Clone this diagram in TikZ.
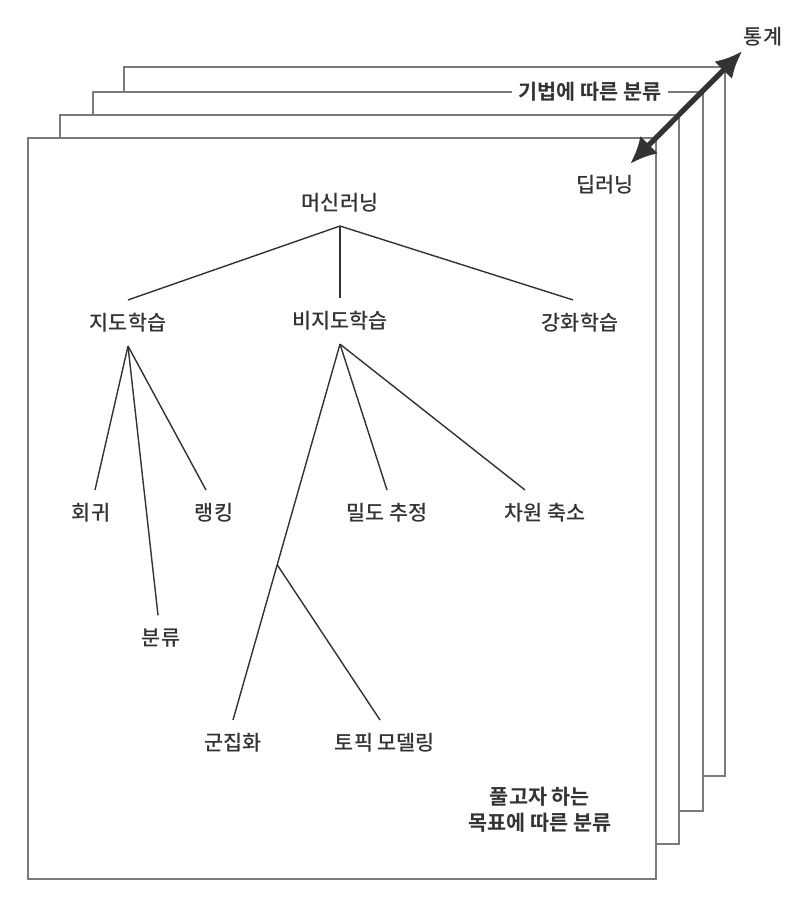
\documentclass[tikz,border=0pt]{standalone}
\usepackage{fontspec}
\setmainfont[BoldFont={Noto Sans CJK KR Bold}]{Noto Sans CJK KR Medium}
\usepackage{tikz}
\usetikzlibrary{arrows.meta,positioning,calc}
\definecolor{ink}{HTML}{333333}
\definecolor{edge}{HTML}{7A7A7A}
\tikzset{
    %Define standard arrow tip
    >={Latex[length=5.4mm,width=5mm]},
    %Define style for the stacked pages
    blatt/.style={
           draw=edge,
           line width=1.1pt,
           fill=white},
    %Define style for labels
    wort/.style={
           inner sep=0pt,
           outer sep=7.7pt,
           text=ink,
           font=\fontsize{11.8}{14.7}\selectfont},
    % Define branch style
    ast/.style={
           draw=ink,
           line width=0.8pt}
}

\begin{document}
\begin{tikzpicture}[x=0.02cm, y=-0.02cm]
      \useasboundingbox (0,0) rectangle (800,906);
      % pages, back to front
      \draw[blatt] (124,67) rectangle (725,776);
      \draw[blatt] (93,92) rectangle (703,811);
      \node[wort, font=\fontsize{11.8}{14.7}\selectfont\bfseries, fill=white,
            inner sep=4pt, outer sep=0pt] (method) at (590,92) {기법에 따른 분류};
      \draw[blatt] (60,115) rectangle (679,844);
      \draw[blatt] (28,138) rectangle (656,879);

      \node[wort] (ml) at (340,203) {머신러닝};
      \node[wort] (sup) at (128,323) {지도학습};
      \node[wort, below=1.44cm of ml] (unsup) {비지도학습};
      \node[wort] (rl) at (580,323) {강화학습};
      \node[wort] (reg) at (91,513) {회귀};
      \node[wort] (rank) at (214,513) {랭킹};
      \node[wort] (cls) at (161,638) {분류};
      \node[wort] (dens) at (387,513) {밀도 추정};
      \node[wort] (dim) at (545,513) {차원 축소};
      \node[wort] (clu) at (233,743) {군집화};
      \node[wort] (topic) at (385,743) {토픽 모델링};

      \path[ast] (ml.south) -- (sup.north);
      \path[ast] (ml.south) -- (unsup.north);
      \path[ast] (ml.south) -- ([xshift=-0.14cm]rl.north);

      \path[ast] (sup.south) -- ([xshift=0.08cm]reg.north);
      \path[ast] (sup.south) -- ([xshift=-0.06cm]cls.north);
      \path[ast] (sup.south) -- ([xshift=-0.16cm]rank.north);

      \coordinate (fork) at ($(unsup.south)!0.587!(clu.north)$);
      \path[ast] (unsup.south) -- (clu.north);
      \path[ast] (fork) -- ([xshift=-0.1cm]topic.north);
      \path[ast] (unsup.south) -- (dens.north);
      \path[ast] (unsup.south) -- ([xshift=-0.4cm]dim.north);

      \node[wort, font=\fontsize{11.8}{14.7}\selectfont\bfseries, align=center] (goal) at (540,810) {풀고자 하는\\목표에 따른 분류};

      \node[wort] (stat) at (763,37) {통계};
      \node[wort] (dl) at (605,185) {딥러닝};
      \draw[<->, ink, line width=3pt]
        ([shift={(25,2)}]dl.north) -- ([shift={(12,-9)}]stat.south west);
  \end{tikzpicture}
\end{document}
